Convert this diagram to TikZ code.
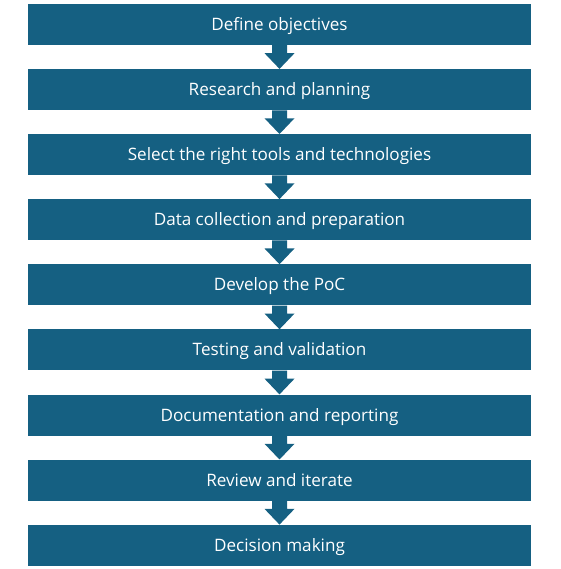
\documentclass[tikz,border=0pt]{standalone}
\usepackage{fontspec}
\setmainfont{Open Sans}
\usetikzlibrary{calc}
\definecolor{boxblue}{HTML}{156082}
\tikzset{
  stepbox/.style={fill=boxblue, draw=none, minimum width=503pt, minimum height=41pt,
    inner sep=0pt, text=white, text height=13pt, text depth=1pt,
    font=\fontsize{17.1}{19}\selectfont},
  blockarrow/.style={fill=boxblue, draw=none}
}
\newcommand{\flowarrow}[2]{%
  \fill[blockarrow] ($(#1.south)+(-7.5pt,0)$) -- ($(#1.south)+(7.5pt,0)$)
    -- ($(#1.south)+(7.5pt,-8pt)$) -- ($(#1.south)+(15pt,-8pt)$)
    -- (#2.north) -- ($(#1.south)+(-15pt,-8pt)$) -- ($(#1.south)+(-7.5pt,-8pt)$) -- cycle;}
\begin{document}
\begin{tikzpicture}[x=1pt,y=1pt]
\useasboundingbox (0,0) rectangle (560,569);
\def\cx{279.5}
\node[stepbox] (b1) at (\cx,{569-24.5-65.1*0}) {Define objectives};
\node[stepbox] (b2) at (\cx,{569-24.5-65.1*1}) {Research and planning};
\node[stepbox] (b3) at (\cx,{569-24.5-65.1*2}) {Select the right tools and technologies};
\node[stepbox] (b4) at (\cx,{569-24.5-65.1*3}) {Data collection and preparation};
\node[stepbox] (b5) at (\cx,{569-24.5-65.1*4}) {Develop the PoC};
\node[stepbox] (b6) at (\cx,{569-24.5-65.1*5}) {Testing and validation};
\node[stepbox] (b7) at (\cx,{569-24.5-65.1*6}) {Documentation and reporting};
\node[stepbox] (b8) at (\cx,{569-24.5-65.1*7}) {Review and iterate};
\node[stepbox] (b9) at (\cx,{569-24.5-65.1*8}) {Decision making};
\flowarrow{b1}{b2}
\flowarrow{b2}{b3}
\flowarrow{b3}{b4}
\flowarrow{b4}{b5}
\flowarrow{b5}{b6}
\flowarrow{b6}{b7}
\flowarrow{b7}{b8}
\flowarrow{b8}{b9}
\end{tikzpicture}
\end{document}
